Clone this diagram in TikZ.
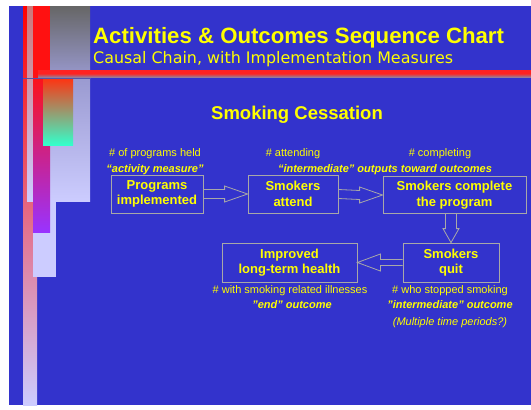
\documentclass[tikz,border=0pt]{standalone}
\usepackage{fontspec}
\setmainfont{Liberation Sans}
\newfontfamily\subfont{DejaVu Sans}
\usetikzlibrary{calc}
\definecolor{bgblue}{HTML}{3333CC}
\definecolor{ttl}{HTML}{FFFF00}
\definecolor{lav}{HTML}{CCCCFF}
\definecolor{boxgray}{HTML}{A8A8A8}
\definecolor{dred}{HTML}{FF1111}
\definecolor{magn}{HTML}{CC22CC}
\definecolor{purp}{HTML}{9933FF}
\definecolor{pinkm}{HTML}{EE99BB}
\definecolor{grtop}{HTML}{666666}
\definecolor{grbot}{HTML}{9A9AD0}
\definecolor{orng}{HTML}{FF3311}
\definecolor{tan}{HTML}{AACC99}
\definecolor{cyant}{HTML}{33FFCC}
\definecolor{pinkgr}{HTML}{CC7777}
\definecolor{hred}{HTML}{FF2222}
\definecolor{hred2}{HTML}{EE3333}
\definecolor{hgray}{HTML}{8888AA}
\definecolor{thinl}{HTML}{5555AA}
\begin{document}
\begin{tikzpicture}[x=1pt,y=-1pt,
  box/.style={draw=boxgray, line width=0.8pt, align=center, text=ttl,
    font=\fontsize{13}{15.5}\selectfont\bfseries, inner sep=0pt,
    execute at begin node={\rule{0pt}{13pt}}},
  lbl/.style={text=ttl, font=\fontsize{11}{13}\selectfont, anchor=base, inner sep=0pt},
  lblq/.style={lbl, font=\fontsize{11}{13}\selectfont\bfseries\itshape},
  lbli/.style={lbl, font=\fontsize{11}{13}\selectfont\itshape},
  barrow/.style={draw=boxgray, line width=0.8pt, line join=miter}]
\useasboundingbox (0,0) rectangle (531,410);
\fill[white] (0,0) rectangle (531,410);
\fill[bgblue] (9,6) rectangle (531,405);
% left decoration
\shade[top color=red, middle color=pinkm, bottom color=lav] (23,6) rectangle (37,405);
\shade[top color=pinkgr, bottom color=lav] (27,6) rectangle (33,201);
\fill[lav] (33,78) rectangle (56,277);
\shade[top color=grbot, bottom color=lav] (50,78) rectangle (90,201);
\shade[top color=grtop, middle color=grtop!80!grbot, bottom color=grbot] (50,6) rectangle (90,78);
\fill[dred] (33,6) rectangle (50,72);
\shade[top color=dred, middle color=magn, bottom color=purp] (33,72) rectangle (50,232);
\shade[top color=orng, middle color=tan, bottom color=cyant] (43,78) rectangle (73,145);
\fill[hred] (38,70) rectangle (531,74);
\shade[top color=hred2, bottom color=hgray] (38,74) rectangle (531,77.5);
\draw[thinl, line width=0.8pt] (23,78.5) -- (90,78.5);
% titles
\node[anchor=base west, inner sep=0pt, text=ttl, font=\fontsize{22.2}{26}\selectfont\bfseries] (title) at (93,43) {Activities \& Outcomes Sequence Chart};
\node[anchor=base west, inner sep=0pt, text=ttl, font=\subfont\fontsize{15.9}{19}\selectfont] (subtitle) at (93,63) {Causal Chain, with Implementation Measures};
\node[anchor=base, inner sep=0pt, text=ttl, font=\fontsize{18.5}{22}\selectfont\bfseries] (topic) at (297,119) {Smoking Cessation};
% boxes
\node[box, minimum width=92pt, minimum height=38pt] (P) at (157,194) {Programs\\implemented};
\node[box, minimum width=90pt, minimum height=38pt] (A) at (293,194) {Smokers\\attend};
\node[box, minimum width=143pt, minimum height=37pt] (C) at (454.5,195) {Smokers complete\\the program};
\node[box, minimum width=96pt, minimum height=39pt] (Q) at (451,262.5) {Smokers\\quit};
\node[box, minimum width=135pt, minimum height=39pt] (I) at (289.5,262.5) {Improved\\long-term health};
% labels
\node[lbl] (l1) at (155,156) {\# of programs held};
\node[lblq] (l2) at (155,172) {“activity measure”};
\node[lbl] (l3) at (293,156) {\# attending};
\node[lbl] (l4) at (440,156) {\# completing};
\node[lblq] (l5) at (385,172) {“intermediate” outputs toward outcomes};
\node[lbl] (l6) at (290,293) {\# with smoking related illnesses};
\node[lblq] (l7) at (292,308) {"end" outcome};
\node[lbl] (l8) at (450,293) {\# who stopped smoking};
\node[lblq] (l9) at (450,308) {"intermediate" outcome};
\node[lbli] (l10) at (450,325) {(Multiple time periods?)};
% block arrows
\draw[barrow] ($(P.east)+(0,-4.5)$) -- ($(A.west)+(-23,-4.5)$) -- ($(A.west)+(-23,-8)$) -- (A.west)
  -- ($(A.west)+(-23,8)$) -- ($(A.west)+(-23,4.5)$) -- ($(P.east)+(0,4.5)$);
\draw[barrow] ($(A.east)+(0,-4.5)$) -- ($(C.west)+(-23,-4.5)$) -- ($(C.west)+(-23,-8)$) -- (C.west)
  -- ($(C.west)+(-23,8)$) -- ($(C.west)+(-23,4.5)$) -- ($(A.east)+(0,4.5)$);
\coordinate (cs) at (C.south -| Q.north);
\draw[barrow] ($(cs)+(-5.5,0)$) -- ($(Q.north)+(-5.5,-14)$) -- ($(Q.north)+(-8,-14)$) -- (Q.north)
  -- ($(Q.north)+(8,-14)$) -- ($(Q.north)+(5.5,-14)$) -- ($(cs)+(5.5,0)$);
\draw[barrow] ($(Q.west)+(0,-3)$) -- ($(I.east)+(23,-3)$) -- ($(I.east)+(23,-8.5)$) -- (I.east)
  -- ($(I.east)+(23,8.5)$) -- ($(I.east)+(23,3)$) -- ($(Q.west)+(0,3)$);
\end{tikzpicture}
\end{document}
